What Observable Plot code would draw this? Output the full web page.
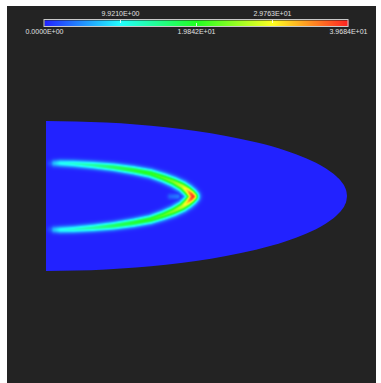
<!DOCTYPE html>
<html><head><meta charset="utf-8">
<script src="https://cdn.jsdelivr.net/npm/d3@7"></script>
<script src="https://cdn.jsdelivr.net/npm/@observablehq/plot@0.6"></script>
<style>
html,body{margin:0;padding:0;background:#fff;}
#chart{position:absolute;left:7px;top:6px;width:369px;height:377px;background:#232323;overflow:hidden;}
#chart svg{display:block;background:transparent;}
</style></head><body><div id="chart"></div>
<script>
// Colour bar
const tickValues = [0, 9.921, 19.842, 29.763, 39.684];
const tickLabels = ["0.0000E+00", "9.9210E+00", "1.9842E+01", "2.9763E+01", "3.9684E+01"];
const tickSide = ["bottom", "top", "bottom", "top", "bottom"];
const rampColors = ["#2222ff", "#22ffff", "#22ff22", "#ffff22", "#ff2222"];

// Domain outline (half-ellipse): x and half-height
const outlineX = [0, 30, 60, 90, 120, 150, 180, 210, 240, 260, 280, 290, 296, 299, 300.5, 301];
const outlineHalf = [75, 74.6, 73.5, 71.6, 68.8, 65, 60, 53.7, 45.3, 37.8, 27.5, 20, 13.6, 8.6, 4, 0];

// Hot band centreline (upper branch; lower branch mirrored), peak value and spread
const bandX = [4, 8, 14, 27, 47, 67, 87, 104, 117, 127, 136, 141, 144.5, 146.5];
const bandY = [33, 33.2, 33.3, 32.8, 31.3, 29.3, 26.3, 23, 18.7, 14.7, 10, 6, 2.5, 0];
const bandValue = [2, 7, 10, 11.5, 14, 17, 19, 20.5, 22, 24, 27.5, 32, 37, 39];
const bandWidth = [3.3, 3.4, 3.5, 3.6, 3.7, 3.8, 4, 4.1, 4.3, 4.5, 4.7, 4.9, 5, 5];

// faint glow inside the tip
const glowX = [124, 131];
const glowY = [0, 0];
const glowValue = [3, 4];
const glowWidth = [3, 3];

const color = {type: "linear", domain: tickValues, range: rampColors};

const ticks = tickValues.map((v, i) => ({value: v, label: tickLabels[i], side: tickSide[i]}));
const outline = outlineX.map((x, i) => ({x, h: outlineHalf[i]}));

const segs = [];
function addLine(xs, ys, vs, ws, sign) {
  for (let i = 0; i < xs.length - 1; ++i) {
    segs.push([
      {x: xs[i], y: sign * ys[i], v: vs[i], w: ws[i]},
      {x: xs[i + 1], y: sign * ys[i + 1], v: vs[i + 1], w: ws[i + 1]}
    ]);
  }
}
addLine(bandX, bandY, bandValue, bandWidth, 1);
addLine(bandX, bandY, bandValue, bandWidth, -1);
addLine(glowX, glowY, glowValue, glowWidth, 1);

function field(x, y) {
  let best = 0;
  for (const [a, b] of segs) {
    const dx = b.x - a.x, dy = b.y - a.y;
    const L2 = dx * dx + dy * dy;
    let t = L2 ? ((x - a.x) * dx + (y - a.y) * dy) / L2 : 0;
    t = Math.max(0, Math.min(1, t));
    const px = a.x + t * dx, py = a.y + t * dy;
    const d2 = (x - px) ** 2 + (y - py) ** 2;
    const v = a.v + t * (b.v - a.v), w = a.w + t * (b.w - a.w);
    const f = v * Math.exp(-d2 / (w * w));
    if (f > best) best = f;
  }
  return best;
}

const lo = tickValues[0], hi = tickValues[tickValues.length - 1];

const bar = Plot.plot({
  width: 369, height: 30,
  marginLeft: 37, marginRight: 28, marginTop: 0, marginBottom: 0,
  x: {domain: [lo, hi], axis: null},
  y: {domain: [0, 30], range: [0, 30], axis: null},
  color,
  style: {background: "transparent", overflow: "visible"},
  marks: [
    Plot.raster({x1: lo, x2: hi, y1: 14, y2: 20, fill: (x, y) => x, pixelSize: 1}),
    Plot.rect([{a: lo, b: hi}], {x1: "a", x2: "b", y1: 13.5, y2: 20.5, stroke: "#c8c8c8", strokeWidth: 1, fill: "none"}),
    Plot.ruleX(ticks.filter((d, i) => i > 0 && i < ticks.length - 1 && d.side === "top"), {x: "value", y1: 14, y2: 17, stroke: "#ffffff", strokeOpacity: 0.8}),
    Plot.ruleX(ticks.filter((d, i) => i > 0 && i < ticks.length - 1 && d.side === "bottom"), {x: "value", y1: 17, y2: 20, stroke: "#ffffff", strokeOpacity: 0.8}),
    Plot.text(ticks, {x: "value", y: d => d.side === "top" ? 7.5 : 25, text: "label", fill: "#e0e0e0", fontSize: 7, fontFamily: "Liberation Sans, Arial, sans-serif"})
  ]
});

const main = Plot.plot({
  width: 369, height: 347, margin: 0,
  x: {domain: [-39, 330], axis: null},
  y: {domain: [-187, 160], axis: null},
  color,
  style: {background: "transparent"},
  marks: [
    Plot.areaY(outline, {x: "x", y1: d => -d.h, y2: d => d.h, fill: rampColors[0], curve: "monotone-x"}),
    Plot.raster({x1: 0, x2: 160, y1: -42, y2: 42, fill: field, pixelSize: 1})
  ]
});

const el = document.getElementById("chart");
el.appendChild(bar);
el.appendChild(main);
</script>
</body></html>
